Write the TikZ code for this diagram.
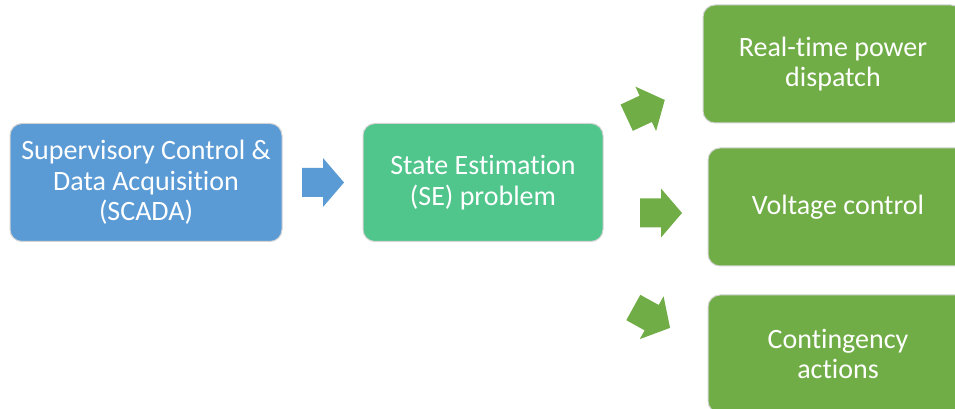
\documentclass[tikz,border=0pt]{standalone}
\usepackage{fontspec}
\setmainfont{Carlito}[Ligatures=NoCommon]
\definecolor{scadablue}{HTML}{5B9BD5}
\definecolor{seteal}{HTML}{50C58C}
\definecolor{outgreen}{HTML}{70AD47}
\definecolor{edgegray}{HTML}{D4D4D4}
\tikzset{
  boxstyle/.style={draw=edgegray, line width=1pt, rounded corners=12pt, text=white,
    align=center, inner sep=0pt, font=\fontsize{28}{30.5}\selectfont},
  pics/blockarrow/.style={code={
    \fill[#1] (0,-14.5) -- (21,-14.5) -- (21,-24.5) -- (42,0) -- (21,24.5) -- (21,14.5) -- (0,14.5) -- cycle;
  }}
}
\begin{document}
\begin{tikzpicture}[x=1pt,y=1pt]
\useasboundingbox (0,0) rectangle (955,409);
\clip (0,0) rectangle (955,409);
\node[boxstyle, fill=scadablue, minimum width=272pt, minimum height=118pt] (scada) at (146,226.5)
  {Supervisory Control \&\\Data Acquisition\\(SCADA)};
\node[boxstyle, fill=seteal, minimum width=240pt, minimum height=118pt] (se) at (483,226.5)
  {State Estimation\\(SE) problem};
\node[boxstyle, fill=outgreen, minimum width=260pt, minimum height=118pt] (dispatch) at (833,345)
  {Real-time power\\dispatch};
\node[boxstyle, fill=outgreen, minimum width=260pt, minimum height=118pt] (voltage) at (838,202)
  {Voltage control};
\node[boxstyle, fill=outgreen, minimum width=260pt, minimum height=118pt] (contingency) at (838,55)
  {Contingency\\actions};
\pic at (302,226.5) {blockarrow=scadablue};
\pic at (640,196) {blockarrow=outgreen};
\pic[rotate=25] at (626.7,291.3) {blockarrow=outgreen};
\pic[rotate=-29] at (633.3,101.5) {blockarrow=outgreen};
\end{tikzpicture}
\end{document}
